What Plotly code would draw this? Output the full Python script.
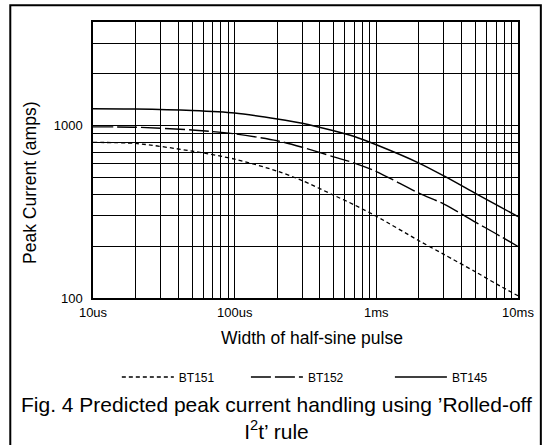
import plotly.graph_objects as go

# ---- data ----
pulse_width_us = [10, 20, 50, 100, 200, 300, 500, 700, 1000, 2000, 3000, 5000, 7000, 10000]
bt151_amps = [800, 789, 712, 640, 545, 480, 395, 347, 298, 215, 179, 142, 121, 103]
bt152_amps = [985, 980, 945, 897, 818, 750, 660, 607, 542, 406, 351, 276, 236, 199]
bt145_amps = [1255, 1250, 1225, 1185, 1095, 1035, 935, 866, 775, 607, 511, 405, 348, 297]

x_tickvals = [10, 20, 30, 40, 50, 60, 70, 80, 90,
              100, 200, 300, 400, 500, 600, 700, 800, 900,
              1000, 2000, 3000, 4000, 5000, 6000, 7000, 8000, 9000, 10000]
x_ticktext = ["10us"] + [""] * 8 + ["100us"] + [""] * 8 + ["1ms"] + [""] * 8 + ["10ms"]
y_tickvals = [100, 200, 300, 400, 500, 600, 700, 800, 900, 1000, 2000, 3000, 4000]
y_ticktext = ["100"] + [""] * 8 + ["1000", "", "", ""]

FONT = "Liberation Sans, Arial, Helvetica, sans-serif"

W, H = 546, 445
ML, MR, MT, MB = 93, 25, 22, 147
PW, PH = W - ML - MR, H - MT - MB


def px(xp):
    return (xp - ML) / PW


def py(yp):
    return (MT + PH - yp) / PH


fig = go.Figure()
fig.add_trace(go.Scatter(x=pulse_width_us, y=bt151_amps, mode="lines", name="BT151",
                         line=dict(color="black", width=1.3, dash="4px,3px", shape="spline", smoothing=0.8),
                         legend="legend"))
fig.add_trace(go.Scatter(x=pulse_width_us, y=bt152_amps, mode="lines", name="BT152",
                         line=dict(color="black", width=1.4, dash="20px,4px", shape="spline", smoothing=0.8),
                         legend="legend2"))
fig.add_trace(go.Scatter(x=pulse_width_us, y=bt145_amps, mode="lines", name="BT145",
                         line=dict(color="black", width=1.5, shape="spline", smoothing=0.8),
                         legend="legend3"))

leg_common = dict(orientation="h", xanchor="left", yanchor="middle", y=py(377),
                  font=dict(family=FONT, size=12, color="black"),
                  bgcolor="rgba(0,0,0,0)", borderwidth=0, itemwidth=52)

fig.update_layout(
    width=W, height=H,
    margin=dict(l=ML, r=MR, t=MT, b=MB, pad=0),
    paper_bgcolor="white", plot_bgcolor="white",
    font=dict(family=FONT, color="black"),
    showlegend=True,
    legend=dict(leg_common, x=px(117)),
    legend2=dict(leg_common, x=px(247)),
    legend3=dict(leg_common, x=px(392)),
    xaxis=dict(type="log", range=[1, 4], tickvals=x_tickvals, ticktext=x_ticktext,
               showgrid=True, gridcolor="black", gridwidth=1,
               showline=True, linecolor="black", linewidth=1.5, mirror=True,
               ticks="", ticklabelstandoff=2, tickfont=dict(family=FONT, size=13, color="black"),
               zeroline=False),
    yaxis=dict(type="log", range=[2, 3.60206], tickvals=y_tickvals, ticktext=y_ticktext,
               showgrid=True, gridcolor="black", gridwidth=1,
               showline=True, linecolor="black", linewidth=1.5, mirror=True,
               ticks="", ticklabelstandoff=6, tickfont=dict(family=FONT, size=13, color="black"),
               zeroline=False),
    annotations=[
        dict(text="Peak Current (amps)", x=px(29), y=py(182.5), xref="paper", yref="paper",
             textangle=-90, showarrow=False, xanchor="center", yanchor="middle",
             font=dict(family=FONT, size=17.5, color="black")),
        dict(text="Width of half-sine pulse", x=px(314), y=py(338), xref="paper", yref="paper",
             showarrow=False, xanchor="center", yanchor="middle",
             font=dict(family=FONT, size=17.5, color="black")),
        dict(text="Fig. 4 Predicted peak current handling using \u2019Rolled-off<br>I<sup>2</sup>t\u2019 rule",
             x=px(277.5), y=py(418), xref="paper", yref="paper",
             showarrow=False, xanchor="center", yanchor="middle", align="center",
             font=dict(family=FONT, size=21, color="black")),
    ],
    shapes=[
        dict(type="rect", xref="paper", yref="paper",
             x0=px(9.7), x1=px(544), y0=py(460), y1=py(5.3),
             line=dict(color="black", width=2), fillcolor="rgba(0,0,0,0)", layer="above"),
    ],
)

fig.write_html("out.html", config={"displayModeBar": False},
               post_script="document.body.style.margin='0';")
